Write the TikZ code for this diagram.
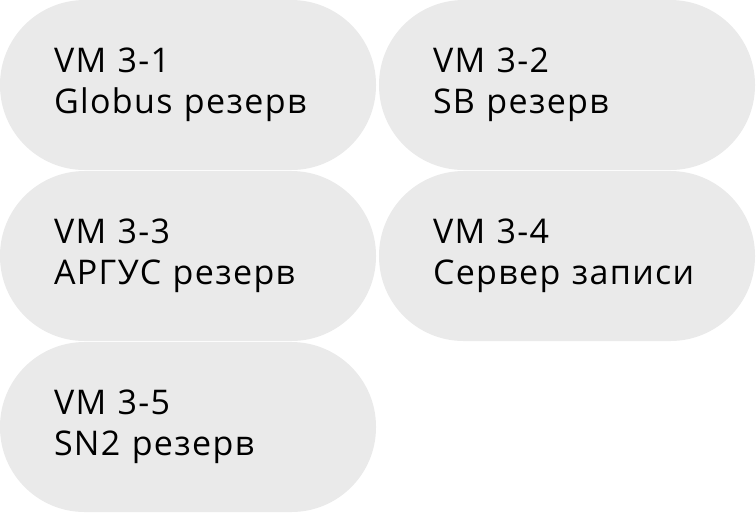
\documentclass[tikz,border=0pt]{standalone}
\usepackage{fontspec}
\setmainfont[LetterSpace=4]{Open Sans}
\usepackage{xcolor}
\usepackage{tikz}

\definecolor{pillgray}{HTML}{EAEAEA}

\tikzset{
  vmpill/.style={rectangle, fill=pillgray, rounded corners=63.5pt,
    minimum width=282pt, minimum height=127.5pt, inner sep=0pt,
    text width=201pt, align=left,
    font=\fontsize{25.5pt}{31pt}\selectfont}
}

\begin{document}
\begin{tikzpicture}[x=0.75pt, y=-0.75pt]
\useasboundingbox (0,0) rectangle (756,512);

\node [vmpill] (vma) at (188,85)  {VM 3-1\\Globus резерв};
\node [vmpill] (vmb) at (567,85)  {VM 3-2\\SB резерв};
\node [vmpill] (vmc) at (188,256) {VM 3-3\\АРГУС резерв};
\node [vmpill] (vmd) at (567,256) {VM 3-4\\Сервер записи};
\node [vmpill] (vme) at (188,427) {VM 3-5\\SN2 резерв};

\end{tikzpicture}
\end{document}
